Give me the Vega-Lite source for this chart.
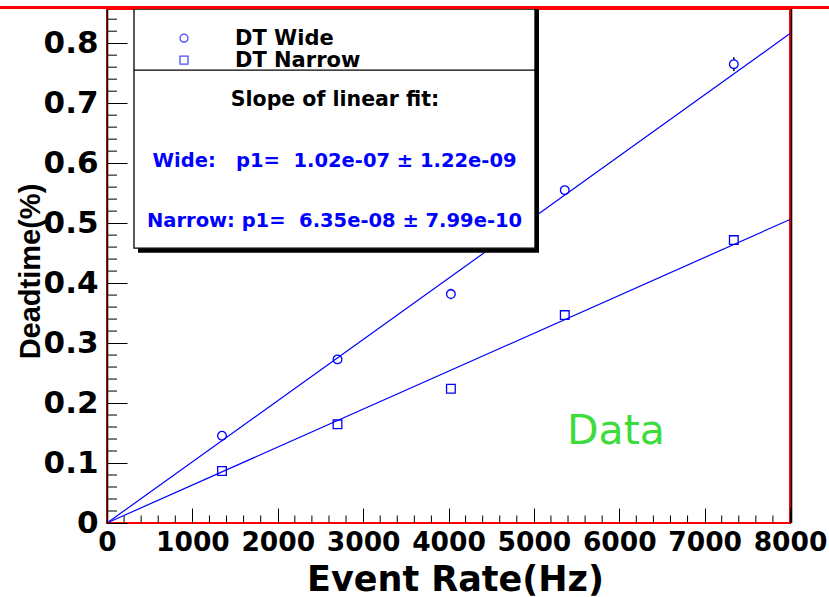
{
  "$schema": "https://vega.github.io/schema/vega-lite/v6.json",
  "width": 683,
  "height": 514,
  "autosize": {"type": "none"},
  "padding": {"left": 107, "top": 9, "right": 39, "bottom": 74},
  "background": "white",
  "config": {
    "view": {"stroke": "#ff0000", "strokeWidth": 2},
    "axis": {"grid": false, "labelOverlap": false, "labelFlush": false}
  },
  "datasets": {
    "points": [
      {"series": "DT Wide", "rate": 1347, "dt": 0.1455},
      {"series": "DT Wide", "rate": 2700, "dt": 0.2728},
      {"series": "DT Wide", "rate": 4028, "dt": 0.3817},
      {"series": "DT Wide", "rate": 5362, "dt": 0.555},
      {"series": "DT Wide", "rate": 7342, "dt": 0.765},
      {"series": "DT Narrow", "rate": 1347, "dt": 0.0867},
      {"series": "DT Narrow", "rate": 2700, "dt": 0.1645},
      {"series": "DT Narrow", "rate": 4028, "dt": 0.2238},
      {"series": "DT Narrow", "rate": 5362, "dt": 0.3467},
      {"series": "DT Narrow", "rate": 7342, "dt": 0.4717}
    ],
    "fits": [
      {"series": "DT Wide", "rate": 20, "dt": 0.002},
      {"series": "DT Wide", "rate": 8000, "dt": 0.816},
      {"series": "DT Narrow", "rate": 20, "dt": 0.0013},
      {"series": "DT Narrow", "rate": 8000, "dt": 0.506}
    ],
    "errors": [
      {"rate": 7342, "dt": 0.7535, "dt_hi": 0.7765},
      {"rate": 4028, "dt": 0.373, "dt_hi": 0.3905}
    ],
    "minor_x": [
      {"rate": 200}, {"rate": 400}, {"rate": 600}, {"rate": 800},
      {"rate": 1200}, {"rate": 1400}, {"rate": 1600}, {"rate": 1800},
      {"rate": 2200}, {"rate": 2400}, {"rate": 2600}, {"rate": 2800},
      {"rate": 3200}, {"rate": 3400}, {"rate": 3600}, {"rate": 3800},
      {"rate": 4200}, {"rate": 4400}, {"rate": 4600}, {"rate": 4800},
      {"rate": 5200}, {"rate": 5400}, {"rate": 5600}, {"rate": 5800},
      {"rate": 6200}, {"rate": 6400}, {"rate": 6600}, {"rate": 6800},
      {"rate": 7200}, {"rate": 7400}, {"rate": 7600}, {"rate": 7800}
    ],
    "minor_y": [
      {"dt": 0.02}, {"dt": 0.04}, {"dt": 0.06}, {"dt": 0.08},
      {"dt": 0.12}, {"dt": 0.14}, {"dt": 0.16}, {"dt": 0.18},
      {"dt": 0.22}, {"dt": 0.24}, {"dt": 0.26}, {"dt": 0.28},
      {"dt": 0.32}, {"dt": 0.34}, {"dt": 0.36}, {"dt": 0.38},
      {"dt": 0.42}, {"dt": 0.44}, {"dt": 0.46}, {"dt": 0.48},
      {"dt": 0.52}, {"dt": 0.54}, {"dt": 0.56}, {"dt": 0.58},
      {"dt": 0.62}, {"dt": 0.64}, {"dt": 0.66}, {"dt": 0.68},
      {"dt": 0.72}, {"dt": 0.74}, {"dt": 0.76}, {"dt": 0.78},
      {"dt": 0.82}, {"dt": 0.84}
    ],
    "one": [{}]
  },
  "layer": [
    {
      "data": {"name": "errors"},
      "mark": {"type": "rule", "color": "black", "strokeWidth": 1.5},
      "encoding": {
        "x": {
          "field": "rate", "type": "quantitative",
          "scale": {"domain": [0, 8000], "nice": false, "zero": false},
          "axis": {
            "title": "Event Rate(Hz)",
            "values": [0, 1000, 2000, 3000, 4000, 5000, 6000, 7000, 8000],
            "format": "d",
            "labelOverlap": false,
            "labelFlush": false,
            "labelFont": "DejaVu Sans",
            "labelFontWeight": "bold",
            "labelFontSize": 26.5,
            "labelColor": "black",
            "labelPadding": 21,
            "domain": false,
            "ticks": true,
            "tickSize": -15,
            "tickColor": "black",
            "tickWidth": 1,
            "titleFont": "DejaVu Sans",
            "titleFontWeight": "bold",
            "titleFontSize": 35,
            "titleColor": "black",
            "titleX": 348,
            "titleY": 67,
            "titleAlign": "center",
            "titleBaseline": "alphabetic"
          }
        },
        "y": {
          "field": "dt", "type": "quantitative",
          "scale": {"domain": [0, 0.857], "nice": false, "zero": false},
          "axis": {
            "title": "Deadtime(%)",
            "values": [0, 0.1, 0.2, 0.3, 0.4, 0.5, 0.6, 0.7, 0.8],
            "format": ".1~f",
            "labelOverlap": false,
            "labelFlush": false,
            "labelFont": "DejaVu Sans",
            "labelFontWeight": "bold",
            "labelFontSize": 31,
            "labelColor": "black",
            "labelPadding": 29,
            "domain": true,
            "domainColor": "black",
            "domainWidth": 1.5,
            "ticks": true,
            "tickSize": -20,
            "tickColor": "black",
            "tickWidth": 1,
            "titleFont": "Liberation Sans",
            "titleFontWeight": "bold",
            "titleFontSize": 29,
            "titleColor": "black",
            "titleAngle": 270,
            "titleX": -77,
            "titleY": 262,
            "titleAlign": "center",
            "titleBaseline": "middle"
          }
        },
        "y2": {"field": "dt_hi"}
      }
    },
    {
      "data": {"name": "minor_x"},
      "mark": {"type": "rule", "color": "black", "strokeWidth": 1},
      "encoding": {
        "x": {"field": "rate", "type": "quantitative"},
        "y": {"datum": 0},
        "y2": {"datum": 0.0125}
      }
    },
    {
      "data": {"name": "minor_y"},
      "mark": {"type": "rule", "color": "black", "strokeWidth": 1},
      "encoding": {
        "y": {"field": "dt", "type": "quantitative"},
        "x": {"datum": 0},
        "x2": {"datum": 117}
      }
    },
    {
      "data": {"name": "points"},
      "mark": {"type": "point", "filled": true, "fill": "white", "fillOpacity": 1, "stroke": "#0000ff", "strokeWidth": 1.3, "size": 75},
      "encoding": {
        "x": {"field": "rate", "type": "quantitative"},
        "y": {"field": "dt", "type": "quantitative"},
        "shape": {
          "field": "series", "type": "nominal",
          "scale": {"domain": ["DT Wide", "DT Narrow"], "range": ["circle", "square"]},
          "legend": null
        }
      }
    },
    {
      "data": {"name": "fits"},
      "mark": {"type": "line", "color": "#0000ff", "strokeWidth": 1.2},
      "encoding": {
        "x": {"field": "rate", "type": "quantitative"},
        "y": {"field": "dt", "type": "quantitative"},
        "detail": {"field": "series", "type": "nominal"}
      }
    },
    {
      "data": {"name": "one"},
      "mark": {"type": "rect", "color": "black"},
      "encoding": {
        "x": {"datum": 363}, "x2": {"datum": 5060},
        "y": {"datum": 0.4508}, "y2": {"datum": 0.857}
      }
    },
    {
      "data": {"name": "one"},
      "mark": {"type": "rect", "fill": "white", "stroke": "black", "strokeWidth": 1.3},
      "encoding": {
        "x": {"datum": 316}, "x2": {"datum": 5013},
        "y": {"datum": 0.4583}, "y2": {"datum": 0.857}
      }
    },
    {
      "data": {"name": "one"},
      "mark": {"type": "rule", "color": "black", "strokeWidth": 1.3},
      "encoding": {
        "x": {"datum": 316}, "x2": {"datum": 5013},
        "y": {"datum": 0.755}
      }
    },
    {
      "data": {"name": "one"},
      "mark": {"type": "point", "shape": "circle", "filled": false, "strokeWidth": 1.3, "size": 65, "color": "#0000ff"},
      "encoding": {"x": {"datum": 902}, "y": {"datum": 0.8083}}
    },
    {
      "data": {"name": "one"},
      "mark": {"type": "point", "shape": "square", "filled": false, "strokeWidth": 1.3, "size": 65, "color": "#0000ff"},
      "encoding": {"x": {"datum": 902}, "y": {"datum": 0.7717}}
    },
    {
      "data": {"name": "one"},
      "mark": {"type": "text", "text": "DT Wide", "font": "DejaVu Sans", "fontWeight": "bold", "fontSize": 21, "align": "left", "baseline": "alphabetic", "color": "black"},
      "encoding": {"x": {"datum": 1499}, "y": {"datum": 0.7967}}
    },
    {
      "data": {"name": "one"},
      "mark": {"type": "text", "text": "DT Narrow", "font": "DejaVu Sans", "fontWeight": "bold", "fontSize": 21, "align": "left", "baseline": "alphabetic", "color": "black"},
      "encoding": {"x": {"datum": 1499}, "y": {"datum": 0.76}}
    },
    {
      "data": {"name": "one"},
      "mark": {"type": "text", "text": "Slope of linear fit:", "font": "DejaVu Sans", "fontWeight": "bold", "fontSize": 20.5, "align": "center", "baseline": "alphabetic", "color": "black"},
      "encoding": {"x": {"datum": 2671}, "y": {"datum": 0.695}}
    },
    {
      "data": {"name": "one"},
      "mark": {"type": "text", "text": "Wide:\u00a0\u00a0\u00a0p1=\u00a0\u00a01.02e-07 ± 1.22e-09", "font": "DejaVu Sans", "fontWeight": "bold", "fontSize": 19.5, "align": "center", "baseline": "alphabetic", "color": "#0000ff"},
      "encoding": {"x": {"datum": 2665}, "y": {"datum": 0.5938}}
    },
    {
      "data": {"name": "one"},
      "mark": {"type": "text", "text": "Narrow: p1=\u00a0\u00a06.35e-08 ± 7.99e-10", "font": "DejaVu Sans", "fontWeight": "bold", "fontSize": 19.5, "align": "center", "baseline": "alphabetic", "color": "#0000ff"},
      "encoding": {"x": {"datum": 2665}, "y": {"datum": 0.4938}}
    },
    {
      "data": {"name": "one"},
      "mark": {"type": "text", "text": "Data", "font": "DejaVu Sans", "fontSize": 41, "align": "center", "baseline": "alphabetic", "color": "#3ddc3d"},
      "encoding": {"x": {"datum": 5962}, "y": {"datum": 0.1317}}
    },
    {
      "data": {"name": "one"},
      "mark": {"type": "rule", "color": "black", "strokeWidth": 1.5},
      "encoding": {"x": {"datum": 8018}, "y": {"datum": 0}, "y2": {"datum": 0.857}}
    },
    {
      "data": {"name": "one"},
      "mark": {"type": "rule", "color": "#ff0000", "strokeWidth": 3},
      "encoding": {"x": {"datum": -1300}, "x2": {"datum": 8500}, "y": {"datum": 0.8595}}
    }
  ]
}
